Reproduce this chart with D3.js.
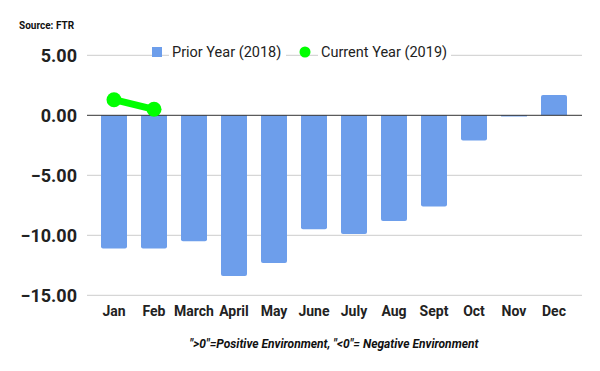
<!DOCTYPE html>
<html>
<head>
<meta charset="utf-8">
<script src="https://cdn.jsdelivr.net/npm/d3@7"></script>
<style>
  body { margin: 0; background: #fff; }
  svg { font-family: Roboto, "Liberation Sans", sans-serif; }
</style>
</head>
<body>
<div id="chart"></div>
<script>
// data
var months = ["Jan", "Feb", "March", "April", "May", "June", "July", "Aug", "Sept", "Oct", "Nov", "Dec"];
var prior2018 = [-11.1, -11.1, -10.5, -13.4, -12.3, -9.5, -9.9, -8.8, -7.6, -2.1, -0.1, 1.7];
var current2019 = [1.3, 0.5];
var yTicks = [5, 0, -5, -10, -15];
var seriesNames = ["Prior Year (2018)", "Current Year (2019)"];

var width = 600, height = 371;
var left = 87, right = 582;

var svg = d3.select("#chart").append("svg")
  .attr("width", width)
  .attr("height", height);

var x = d3.scaleBand()
  .domain(months)
  .range([94, 574])
  .paddingInner(0.35)
  .paddingOuter(0.175);

var y = d3.scaleLinear()
  .domain([-15, 5])
  .range([295.3, 55.3]);

// gridlines + y labels
var grid = svg.append("g");
grid.selectAll("line")
  .data(yTicks.filter(function(d) { return d !== 0; }))
  .enter().append("line")
  .attr("x1", left).attr("x2", right)
  .attr("y1", function(d) { return y(d); })
  .attr("y2", function(d) { return y(d); })
  .attr("stroke", "#cccccc")
  .attr("stroke-width", 1);

svg.append("g").selectAll("text")
  .data(yTicks)
  .enter().append("text")
  .attr("x", 77)
  .attr("y", function(d) { return y(d); })
  .attr("dy", "0.36em")
  .attr("text-anchor", "end")
  .attr("font-size", 18)
  .attr("font-weight", "bold")
  .attr("fill", "#222")
  .text(function(d) { return d3.format(".2f")(d); });

// bars with a small rounding on the far end
var r = 2;
function barPath(d, i) {
  var x0 = x(months[i]), w = x.bandwidth();
  var y0 = y(0), y1 = y(d);
  var h = Math.abs(y1 - y0);
  var rr = Math.min(r, h / 2);
  if (d < 0) {
    return "M" + x0 + "," + y0 + "H" + (x0 + w) + "V" + (y1 - rr) +
      "Q" + (x0 + w) + "," + y1 + " " + (x0 + w - rr) + "," + y1 +
      "H" + (x0 + rr) + "Q" + x0 + "," + y1 + " " + x0 + "," + (y1 - rr) + "Z";
  }
  return "M" + x0 + "," + y0 + "H" + (x0 + w) + "V" + (y1 + rr) +
    "Q" + (x0 + w) + "," + y1 + " " + (x0 + w - rr) + "," + y1 +
    "H" + (x0 + rr) + "Q" + x0 + "," + y1 + " " + x0 + "," + (y1 + rr) + "Z";
}
svg.append("g").selectAll("path")
  .data(prior2018)
  .enter().append("path")
  .attr("d", barPath)
  .attr("fill", "#6d9eeb");

// zero line
svg.append("line")
  .attr("x1", left).attr("x2", right)
  .attr("y1", y(0)).attr("y2", y(0))
  .attr("stroke", "#333")
  .attr("stroke-width", 1);

// current year line
var line = d3.line()
  .x(function(d, i) { return x(months[i]) + x.bandwidth() / 2; })
  .y(function(d) { return y(d); });
svg.append("path")
  .datum(current2019)
  .attr("d", line)
  .attr("fill", "none")
  .attr("stroke", "#00ff00")
  .attr("stroke-width", 7);
svg.append("g").selectAll("circle")
  .data(current2019)
  .enter().append("circle")
  .attr("cx", function(d, i) { return x(months[i]) + x.bandwidth() / 2; })
  .attr("cy", function(d) { return y(d); })
  .attr("r", 7.5)
  .attr("fill", "#00ff00");

// x labels
svg.append("g").selectAll("text")
  .data(months)
  .enter().append("text")
  .attr("x", function(d) { return x(d) + x.bandwidth() / 2; })
  .attr("y", 311)
  .attr("dy", "0.36em")
  .attr("text-anchor", "middle")
  .attr("font-size", 14)
  .attr("font-weight", "bold")
  .attr("fill", "#222")
  .text(function(d) { return d; });

// legend (sits on the 5.00 gridline)
var lg = svg.append("g");
lg.append("rect").attr("x", 152).attr("y", 47).attr("width", 10).attr("height", 10).attr("fill", "#6d9eeb");
lg.append("rect").attr("x", 169).attr("y", 41).attr("width", 117).attr("height", 22).attr("fill", "#fff");
lg.append("text").attr("x", 172).attr("y", 52).attr("dy", "0.36em")
  .attr("font-size", 14.5).attr("fill", "#222").text(seriesNames[0]);
lg.append("circle").attr("cx", 305).attr("cy", 52).attr("r", 5.5).attr("fill", "#00ff00");
lg.append("rect").attr("x", 318).attr("y", 41).attr("width", 133).attr("height", 22).attr("fill", "#fff");
lg.append("text").attr("x", 321).attr("y", 52).attr("dy", "0.36em")
  .attr("font-size", 14.5).attr("fill", "#222").text(seriesNames[1]);

// source + caption
svg.append("text")
  .attr("x", 19).attr("y", 25)
  .attr("dy", "0.36em")
  .attr("font-size", 10)
  .attr("font-weight", "bold")
  .attr("fill", "#111")
  .text("Source: FTR");

svg.append("text")
  .attr("x", 334).attr("y", 344)
  .attr("dy", "0.36em")
  .attr("text-anchor", "middle")
  .attr("font-size", 12)
  .attr("font-weight", "bold")
  .attr("font-style", "italic")
  .attr("fill", "#111")
  .text("\">0\"=Positive Environment, \"<0\"= Negative Environment");
</script>
</body>
</html>
